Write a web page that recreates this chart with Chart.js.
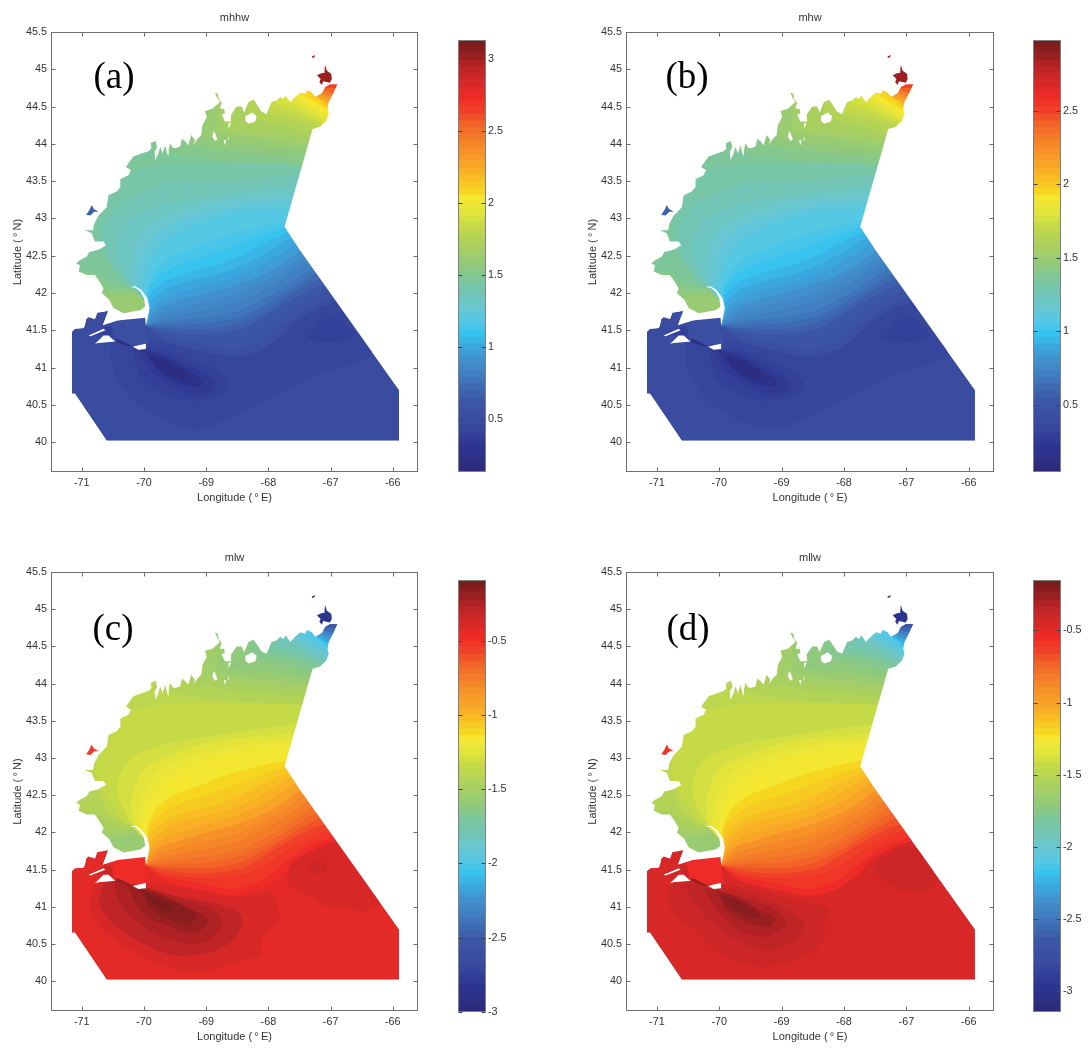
<!DOCTYPE html>
<html><head><meta charset="utf-8">
<style>
html,body{margin:0;padding:0;background:#fff;overflow:hidden;width:1089px;height:1049px}
canvas{position:absolute;display:block}
</style>
<script src="https://cdn.jsdelivr.net/npm/chart.js@4"></script>
</head><body>
<script>
// ---------- labels and ticks ----------
const panelTitles = ['mhhw','mhw','mlw','mllw'];
const panelLetters = ['(a)','(b)','(c)','(d)'];
const lonTicks = [-71,-70,-69,-68,-67,-66];
const latTicks = [40,40.5,41,41.5,42,42.5,43,43.5,44,44.5,45,45.5];
const colorLimits = [[0.135,3.13],[0.045,2.98],[-3,-0.092],[-3.146,-0.15]];
const colorTicks = [[0.5,1,1.5,2,2.5,3],[0.5,1,1.5,2,2.5],[-3,-2.5,-2,-1.5,-1,-0.5],[-3,-2.5,-2,-1.5,-1,-0.5]];

// ---------- model domain (lon, lat) ----------
const domainOutline = [[-65.90,40.70],[-65.90,40.02],[-70.60,40.02],[-71.11,40.65],[-71.16,40.65],[-71.16,41.48],[-71.11,41.52],[-70.97,41.53],[-70.95,41.57],[-70.93,41.65],[-70.89,41.68],[-70.79,41.65],[-70.75,41.74],[-70.65,41.75],[-70.57,41.77],[-70.66,41.57],[-70.43,41.63],[-69.98,41.67],[-69.97,41.56],[-69.93,41.71],[-69.91,41.80],[-69.945,41.93],[-70.04,42.04],[-70.14,42.09],[-70.22,42.08],[-70.14,42.07],[-70.06,42.02],[-70.00,41.93],[-69.98,41.82],[-70.06,41.77],[-70.33,41.73],[-70.49,41.80],[-70.56,41.91],[-70.68,42.00],[-70.65,42.06],[-70.73,42.17],[-70.79,42.24],[-70.92,42.24],[-71.05,42.29],[-71.03,42.37],[-71.09,42.40],[-71.03,42.44],[-70.92,42.49],[-70.88,42.55],[-70.73,42.58],[-70.61,42.64],[-70.65,42.69],[-70.79,42.69],[-70.84,42.80],[-70.95,42.84],[-70.82,42.84],[-70.80,42.93],[-70.73,43.04],[-70.60,43.15],[-70.57,43.31],[-70.44,43.36],[-70.38,43.42],[-70.38,43.53],[-70.25,43.58],[-70.21,43.65],[-70.29,43.69],[-70.25,43.74],[-70.17,43.83],[-70.04,43.87],[-69.93,43.90],[-69.88,43.94],[-69.89,44.01],[-69.81,44.04],[-69.79,43.95],[-69.83,43.90],[-69.82,43.78],[-69.77,43.87],[-69.74,43.96],[-69.70,43.87],[-69.66,43.98],[-69.62,43.85],[-69.58,44.01],[-69.54,43.95],[-69.50,43.94],[-69.42,43.96],[-69.39,44.07],[-69.33,44.03],[-69.29,43.98],[-69.24,44.12],[-69.18,44.05],[-69.21,43.98],[-69.13,44.08],[-69.08,44.12],[-69.06,44.25],[-68.99,44.36],[-69.02,44.44],[-68.90,44.47],[-68.86,44.50],[-68.78,44.56],[-68.83,44.63],[-68.86,44.69],[-68.81,44.67],[-68.80,44.60],[-68.75,44.55],[-68.78,44.47],[-68.71,44.47],[-68.70,44.41],[-68.75,44.39],[-68.70,44.30],[-68.59,44.30],[-68.60,44.39],[-68.51,44.50],[-68.43,44.50],[-68.39,44.42],[-68.32,44.56],[-68.24,44.59],[-68.21,44.56],[-68.11,44.43],[-68.03,44.40],[-67.95,44.56],[-67.87,44.58],[-67.81,44.63],[-67.76,44.60],[-67.72,44.65],[-67.65,44.56],[-67.57,44.63],[-67.49,44.69],[-67.41,44.67],[-67.38,44.72],[-67.30,44.69],[-67.25,44.63],[-67.14,44.68],[-67.09,44.76],[-67.01,44.80],[-66.89,44.80],[-66.95,44.69],[-67.03,44.56],[-67.05,44.47],[-67.03,44.40],[-67.07,44.31],[-67.17,44.23],[-67.29,44.20],[-67.74,42.89],[-67.49,42.57]];
const outerFrame = [[-65,40.70],[-65,47],[-73,47],[-73,39],[-65,39],[-65,40.70]];
const islandPaths = [
 [[-70.76,41.34],[-70.65,41.43],[-70.57,41.43],[-70.49,41.37],[-70.46,41.35],[-70.73,41.33],[-70.79,41.32]],
 [[-70.18,41.28],[-70.09,41.30],[-69.97,41.32],[-69.97,41.25],[-70.09,41.24]],
 [[-70.89,41.43],[-70.65,41.52],[-70.62,41.50],[-70.86,41.42]],
 [[-68.37,44.37],[-68.26,44.42],[-68.19,44.37],[-68.21,44.30],[-68.32,44.27],[-68.37,44.31]],
 [[-68.88,44.17],[-68.86,44.15],[-68.82,44.06],[-68.86,44.04],[-68.90,44.10]],
 [[-68.64,44.28],[-68.60,44.28],[-68.64,44.20]],
 [[-68.65,44.09],[-68.63,44.08],[-68.64,44.04]],
 [[-68.72,44.05],[-68.68,44.05],[-68.70,43.98]],
 [[-69.63,43.90],[-69.60,43.90],[-69.61,43.83]]
];

// ---------- contour lines: fan from Cape Cod and arcs over the Gulf ----------
const fanPaths = [
 [[-69.97,41.56],[-69.79,41.40],[-69.53,41.31],[-69.10,41.23],[-68.56,41.15],[-68.08,41.25],[-67.70,41.50],[-67.60,41.62],[-67.22,41.79],[-66.79,41.99]],
 [[-69.97,41.56],[-69.74,41.43],[-69.42,41.36],[-68.99,41.30],[-68.56,41.24],[-68.13,41.34],[-67.76,41.58],[-67.38,41.81],[-66.79,42.06]],
 [[-69.97,41.56],[-69.74,41.45],[-69.31,41.40],[-68.83,41.39],[-68.35,41.45],[-67.97,41.61],[-67.60,41.81],[-67.17,41.99],[-66.79,42.12]],
 [[-69.97,41.56],[-69.71,41.50],[-69.26,41.45],[-68.83,41.46],[-68.40,41.53],[-68.03,41.70],[-67.65,41.90],[-67.28,42.06],[-66.85,42.21]],
 [[-69.97,41.56],[-69.69,41.53],[-69.26,41.52],[-68.83,41.53],[-68.40,41.61],[-68.03,41.77],[-67.65,41.97],[-67.22,42.17],[-66.90,42.28]],
 [[-69.97,41.56],[-69.69,41.57],[-69.23,41.58],[-68.83,41.61],[-68.43,41.69],[-68.05,41.85],[-67.68,42.03],[-67.28,42.24],[-66.95,42.37]],
 [[-69.97,41.57],[-69.69,41.61],[-69.26,41.65],[-68.83,41.69],[-68.45,41.77],[-68.08,41.92],[-67.70,42.10],[-67.33,42.32],[-67.01,42.48]],
 [[-69.97,41.57],[-69.71,41.66],[-69.31,41.73],[-68.88,41.80],[-68.51,41.88],[-68.13,42.02],[-67.76,42.20],[-67.38,42.41],[-67.06,42.59]],
 [[-69.97,41.57],[-69.75,41.72],[-69.37,41.81],[-68.94,41.90],[-68.53,41.98],[-68.16,42.12],[-67.78,42.29],[-67.44,42.50],[-67.11,42.68]],
 [[-69.97,41.58],[-69.79,41.78],[-69.47,41.88],[-69.04,41.99],[-68.62,42.08],[-68.19,42.21],[-67.81,42.38],[-67.49,42.57],[-67.17,42.74]],
 [[-69.97,41.58],[-69.84,41.83],[-69.55,41.97],[-69.12,42.08],[-68.70,42.17],[-68.27,42.31],[-67.89,42.48],[-67.56,42.66],[-67.22,42.83]],
 [[-69.96,41.60],[-69.87,41.90],[-69.63,42.06],[-69.20,42.18],[-68.78,42.26],[-68.35,42.40],[-67.97,42.57],[-67.64,42.74],[-67.28,42.92]],
 [[-69.96,41.62],[-69.90,41.97],[-69.69,42.14],[-69.31,42.27],[-68.88,42.36],[-68.45,42.50],[-68.08,42.66],[-67.70,42.81],[-67.33,42.97]],
 [[-69.95,41.66],[-69.93,42.03],[-69.75,42.23],[-69.42,42.39],[-68.99,42.50],[-68.56,42.63],[-68.13,42.77],[-67.74,42.88],[-67.33,43.01]],
 [[-69.94,42.08],[-69.82,42.30],[-69.53,42.50],[-69.10,42.63],[-68.67,42.77],[-68.19,42.88],[-67.71,42.97],[-67.33,43.05]],
 [[-70.04,42.05],[-69.95,42.30],[-69.87,42.48],[-69.58,42.75],[-68.99,42.97],[-68.29,43.11],[-67.66,43.13],[-67.28,43.15]],
 [[-70.12,42.07],[-70.07,42.32],[-70.01,42.53],[-69.74,42.84],[-69.10,43.06],[-68.35,43.19],[-67.62,43.24],[-67.22,43.25]],
 [[-70.16,42.08],[-70.21,42.30],[-70.20,42.48],[-70.01,42.84],[-69.53,43.06],[-68.78,43.24],[-67.60,43.33],[-67.17,43.36]],
 [[-70.18,42.08],[-70.34,42.34],[-70.43,42.53],[-70.38,42.79],[-70.17,43.02],[-69.63,43.19],[-68.88,43.30],[-67.54,43.46],[-67.17,43.50]],
 [[-70.20,42.08],[-70.46,42.30],[-70.60,42.52],[-70.65,42.84],[-70.52,43.06],[-70.22,43.28],[-69.63,43.46],[-68.83,43.50],[-67.49,43.59],[-67.11,43.63]],
 [[-70.71,42.61],[-70.76,42.84],[-70.71,43.06],[-70.55,43.33],[-70.28,43.60],[-69.79,43.71],[-68.99,43.73],[-67.46,43.73],[-67.06,43.75]]
];
const fanClosure = [[-65,46],[-72,46],[-72,41.85],[-70.7,41.85],[-70.3,41.72],[-69.98,41.72]];
const fanLevelsA = [.53,.58,.63,.67,.72,.77,.81,.86,.91,.95,1.00,1.05,1.09,1.14,1.19,1.23,1.28,1.33,1.37,1.42,1.47];
const fanLevelsB = [.44,.48,.53,.57,.62,.66,.71,.76,.80,.85,.89,.94,.99,1.03,1.08,1.12,1.17,1.22,1.26,1.31,1.35];
const fanLevelsC = [-.48,-.52,-.57,-.61,-.66,-.71,-.75,-.80,-.84,-.93,-.98,-1.02,-1.07,-1.11,-1.16,-1.21,-1.25,-1.30,-1.34,-1.34,-1.39];
const fanLevelsD = [-.55,-.60,-.64,-.69,-.74,-.78,-.83,-.88,-.92,-1.02,-1.06,-1.11,-1.16,-1.20,-1.25,-1.30,-1.34,-1.39,-1.44,-1.44,-1.48];

// ---------- contour lines slanting towards the Bay of Fundy ----------
const coastPaths = [
 [[-69.85,43.91],[-69.31,43.84],[-68.56,43.77],[-67.44,43.71],[-67.06,43.68]],
 [[-69.31,43.99],[-68.56,43.91],[-67.41,43.82],[-67.01,43.79]],
 [[-69.05,44.08],[-68.24,43.99],[-67.37,43.91],[-66.95,43.88]],
 [[-68.83,44.15],[-68.03,44.06],[-67.34,43.99],[-66.95,43.95]],
 [[-68.62,44.19],[-67.92,44.15],[-67.32,44.07],[-66.95,44.04]],
 [[-68.32,44.35],[-67.76,44.24],[-67.29,44.15],[-66.95,44.11]],
 [[-68.08,44.40],[-67.65,44.33],[-67.25,44.23],[-66.95,44.15]],
 [[-67.97,44.46],[-67.54,44.37],[-67.22,44.27],[-66.95,44.17]],
 [[-67.87,44.53],[-67.49,44.42],[-67.17,44.30],[-66.95,44.22]],
 [[-67.73,44.58],[-67.41,44.46],[-67.13,44.33],[-66.95,44.25]],
 [[-67.62,44.62],[-67.33,44.48],[-67.09,44.36],[-66.95,44.31]],
 [[-67.54,44.64],[-67.28,44.50],[-67.06,44.40],[-66.95,44.36]],
 [[-67.46,44.66],[-67.22,44.54],[-67.03,44.44],[-66.95,44.40]],
 [[-67.36,44.69],[-67.19,44.58],[-67.01,44.48]],
 [[-67.28,44.64],[-67.14,44.58],[-66.98,44.49]],
 [[-67.22,44.63],[-67.09,44.57],[-66.95,44.53]],
 [[-67.20,44.67],[-67.03,44.60],[-66.93,44.57]],
 [[-67.16,44.69],[-67.01,44.65],[-66.90,44.62]],
 [[-67.11,44.72],[-66.98,44.69],[-66.84,44.67]],
 [[-67.09,44.75],[-66.95,44.75],[-66.82,44.73]]
];
const coastLevelsA = [1.52,1.56,1.61,1.66,1.70,1.75,1.80,1.84,1.89,1.94,1.98,2.03,2.08,2.12,2.17,2.26,2.36,2.45,2.54,2.64];
const coastLevelsB = [1.40,1.45,1.49,1.54,1.58,1.63,1.67,1.72,1.77,1.81,1.86,1.90,1.95,1.99,2.04,2.13,2.23,2.32,2.41,2.50];
const coastLevelsC = [-1.43,-1.48,-1.52,-1.57,-1.61,-1.66,-1.71,-1.75,-1.80,-1.84,-1.89,-1.93,-1.98,-2.02,-2.07,-2.16,-2.25,-2.34,-2.43,-2.52];
const coastLevelsD = [-1.53,-1.58,-1.62,-1.67,-1.72,-1.77,-1.81,-1.86,-1.91,-1.95,-2.00,-2.05,-2.09,-2.14,-2.19,-2.28,-2.37,-2.47,-2.56,-2.65];

// ---------- Cape Cod Bay and Massachusetts coast ----------
const bayPaths = [
 [[-70.20,42.08],[-70.44,42.19],[-70.61,42.30],[-70.71,42.48],[-70.76,42.64],[-71.13,42.64],[-71.24,42.12],[-70.71,41.83],[-70.54,41.74],[-69.99,41.72],[-69.99,41.90]],
 [[-70.17,42.07],[-70.41,42.10],[-70.60,42.17],[-70.81,42.28],[-71.24,42.28],[-71.24,42.12],[-70.71,41.83],[-70.54,41.74],[-69.99,41.72],[-69.99,41.90]],
 [[-70.14,42.04],[-70.38,42.02],[-70.60,42.05],[-71.24,42.05],[-70.71,41.83],[-70.54,41.74],[-69.99,41.72],[-69.99,41.90]],
 [[-70.09,41.99],[-70.33,41.95],[-70.54,41.95],[-70.71,41.83],[-70.54,41.74],[-69.99,41.72],[-69.99,41.90]]
];
const bayLevelsA = [1.47,1.52,1.56,1.61];
const bayLevelsB = [1.35,1.40,1.45,1.49];
const bayLevelsC = [-1.43,-1.48,-1.52,-1.57];
const bayLevelsD = [-1.53,-1.58,-1.62,-1.67];

// ---------- Nantucket Sound and Vineyard Sound ----------
const soundPaths = [
 [[-70.62,41.53],[-70.46,41.62],[-70.33,41.65],[-69.97,41.69],[-69.97,41.55],[-69.93,41.32],[-70.17,41.30],[-70.46,41.36],[-70.60,41.43]],
 [[-70.87,41.43],[-70.65,41.54],[-70.52,41.56],[-70.49,41.45],[-70.49,41.38],[-70.62,41.43]],
 [[-70.46,41.39],[-70.38,41.37],[-70.20,41.29],[-70.25,41.28],[-70.44,41.34]]
];
const soundLevelsA = [.53,.39,.25];
const soundLevelsB = [.44,.30,.16];
const soundLevelsC = [-.48,-.34,-.21];
const soundLevelsD = [-.55,-.41,-.27];

// ---------- inlets coloured apart from the open water ----------
const inletPaths = [
 [[-70.93,43.05],[-70.88,43.11],[-70.84,43.18],[-70.81,43.13],[-70.73,43.09],[-70.80,43.09],[-70.86,43.04]],
 [[-67.09,45.06],[-67.06,44.98],[-66.99,44.94],[-66.98,44.87],[-67.01,44.82],[-67.12,44.84],[-67.14,44.79],[-67.18,44.83],[-67.16,44.87],[-67.22,44.92],[-67.14,44.95],[-67.10,44.95]],
 [[-67.30,45.17],[-67.25,45.19],[-67.26,45.16],[-67.30,45.15]]
];
const inletLevelsA = [.67,3.01,3.01];
const inletLevelsB = [.57,2.87,2.87];
const inletLevelsC = [-.52,-2.84,-2.84];
const inletLevelsD = [-.60,-2.98,-2.98];

// ---------- open-water level and closed contours south of the fan ----------
const baseLevels = [.49,.39,-.432,-.456];
const blobPathsHigh = [
 [[-70.52,41.37],[-70.52,41.05],[-70.33,40.70],[-69.90,40.39],[-69.26,40.18],[-68.83,40.25],[-68.13,40.52],[-67.11,40.94],[-66.34,41.21],[-66.90,41.90],[-68.03,41.41],[-69.95,41.37]],
 [[-67.38,41.39],[-67.01,41.68],[-66.63,41.43],[-67.01,41.34]],
 [[-70.20,41.28],[-70.01,40.83],[-69.53,40.61],[-69.15,40.56],[-68.72,40.66],[-68.65,40.80],[-68.90,40.98],[-69.30,41.12],[-69.63,41.23]],
 [[-70.12,41.25],[-69.85,40.92],[-69.42,40.70],[-69.15,40.63],[-68.88,40.70],[-68.88,40.83],[-69.20,40.99],[-69.63,41.17]],
 [[-70.01,41.23],[-69.79,40.99],[-69.47,40.81],[-69.15,40.74],[-69.07,40.81],[-69.26,40.94],[-69.63,41.12]],
 [[-69.90,41.14],[-69.69,40.94],[-69.42,40.85],[-69.23,40.81],[-69.31,40.90],[-69.58,41.05]]
];
const blobLevelsA = [.44,.39,.39,.35,.25,.20];
const blobLevelsB = [.34,.30,.30,.25,.16,.11];
const blobPathsC = [
 [[-70.79,41.29],[-70.87,41.10],[-70.79,40.82],[-70.49,40.57],[-70.06,40.35],[-69.63,40.20],[-69.26,40.11],[-68.83,40.17],[-68.40,40.28],[-68.13,40.35],[-68.11,40.55],[-67.97,40.69],[-67.84,40.80],[-67.84,41.00],[-67.95,41.17],[-68.19,41.17],[-68.45,41.13],[-69.10,41.22],[-69.90,41.33],[-70.46,41.39]],
 [[-67.70,41.37],[-67.62,41.60],[-67.17,41.80],[-66.93,41.90],[-66.2,41.1],[-66.42,40.95],[-66.74,40.97],[-67.06,41.00],[-67.38,41.17],[-67.65,41.26]],
 [[-67.38,41.53],[-67.22,41.62],[-67.06,41.55],[-67.11,41.46],[-67.33,41.46]],
 [[-70.65,41.31],[-70.71,41.04],[-70.44,40.73],[-70.06,40.53],[-69.63,40.37],[-69.26,40.35],[-68.83,40.42],[-68.48,40.64],[-68.45,40.89],[-68.67,41.00],[-69.10,41.09],[-69.63,41.17],[-69.95,41.26],[-70.46,41.37]],
 [[-70.49,41.35],[-70.38,41.04],[-70.06,40.77],[-69.69,40.60],[-69.31,40.51],[-68.99,40.55],[-68.75,40.73],[-68.75,40.84],[-68.99,41.00],[-69.42,41.11],[-69.95,41.26]],
 [[-70.28,41.29],[-70.01,40.91],[-69.63,40.75],[-69.26,40.65],[-69.02,40.73],[-68.99,40.84],[-69.20,40.95],[-69.53,41.09],[-69.97,41.24]],
 [[-70.01,41.22],[-69.90,41.00],[-69.63,40.84],[-69.31,40.77],[-69.15,40.84],[-69.20,40.93],[-69.50,41.06],[-69.74,41.15]],
 [[-70.04,41.22],[-69.85,41.02],[-69.55,40.93],[-69.55,41.02],[-69.79,41.11]]
];
const blobLevelsC = [-.386,-.386,-.341,-.296,-.25,-.205,-.16,-.114];
const blobPathsD = [
 [[-70.82,41.22],[-70.80,41.00],[-70.42,40.69],[-69.89,40.33],[-69.35,40.20],[-68.97,40.24],[-68.55,40.37],[-68.33,40.55],[-68.30,40.80],[-68.22,40.91],[-68.28,41.00],[-68.65,41.06],[-69.24,41.20],[-70.26,41.37],[-70.55,41.46]],
 [[-67.53,41.49],[-67.42,41.64],[-66.88,41.80],[-66.51,41.37],[-66.62,41.24],[-66.88,41.20],[-67.26,41.29]],
 [[-70.58,41.31],[-70.37,41.00],[-69.89,40.64],[-69.35,40.42],[-68.97,40.46],[-68.68,40.66],[-68.65,40.80],[-68.87,40.95],[-69.24,41.09],[-69.99,41.26]],
 [[-70.26,41.26],[-69.89,40.82],[-69.35,40.60],[-69.03,40.69],[-68.92,40.80],[-69.08,40.95],[-69.40,41.06],[-69.94,41.20]],
 [[-70.05,41.22],[-69.83,40.91],[-69.24,40.73],[-69.11,40.84],[-69.35,40.95],[-69.72,41.13]],
 [[-69.99,41.17],[-69.78,40.95],[-69.35,40.86],[-69.43,40.95],[-69.64,41.06]]
];
const blobLevelsD = [-.409,-.409,-.362,-.315,-.268,-.221];

// ---------- colour map: band index -> colour ----------
const colorAnchors = [[0,'#2b2b7b'],[3,'#2d3490'],[5,'#33409a'],[7,'#3a4ca0'],[10,'#3b56a6'],[12,'#3e6ab2'],[14,'#4080c1'],[16,'#4190cd'],[18,'#3aa8de'],[20,'#38c3ef'],[22,'#55c8e4'],[24,'#6ac6cf'],[26,'#72c5b5'],[28,'#7cc69a'],[30,'#90c97c'],[33,'#a9d05e'],[36,'#c6da47'],[38,'#e2e43c'],[40,'#f3e731'],[41,'#f6d61f'],[43,'#f7bd22'],[45,'#f8a427'],[47,'#f79228'],[49,'#f47c28'],[51,'#f26327'],[53,'#ef4127'],[55,'#ee2b27'],[57,'#d72827'],[58,'#cd2627'],[60,'#b02124'],[61,'#9a1f20'],[62,'#8a1d1e'],[63,'#7c1c1c']];
const BANDS = 64;
const rgb = h => [1,3,5].map(i => parseInt(h.substr(i,2),16));
const palette = [];
for (let a = 0; a < colorAnchors.length - 1; a++) {
  const [i0,c0] = colorAnchors[a], [i1,c1] = colorAnchors[a+1];
  for (let i = i0; i <= i1; i++) {
    const t = (i-i0)/(i1-i0), p = rgb(c0), q = rgb(c1);
    palette[i] = 'rgb(' + p.map((v,k)=>Math.round(v+(q[k]-v)*t)).join(',') + ')';
  }
}
function colorOf(v, lim) {
  const i = Math.floor((v-lim[0])/(lim[1]-lim[0])*BANDS);
  return palette[Math.max(0,Math.min(BANDS-1,i))];
}

// ---------- page layout ----------
const LON_RANGE = [-71.495,-65.595], LAT_RANGE = [39.6,45.5];
const mapBoxes = [
  {left:0,top:0,h:510,bottom:38},{left:575,top:0,h:510,bottom:38},
  {left:0,top:540,h:509,bottom:38},{left:575,top:540,h:509,bottom:38}];
const barBoxes = [{left:440,top:0},{left:1015,top:0},{left:440,top:540},{left:1015,top:540}];
const letterOffsets = [[63,46],[61,46],[62,58],[62,58]];
const FONT = '"Liberation Sans", Arial, sans-serif';
const INK = '#333', FRAME = '#6e6e6e';
const SMOOTH = 0.3;

function addCanvas(left, top, w, h) {
  const c = document.createElement('canvas');
  c.width = w; c.height = h;
  c.style.left = left+'px'; c.style.top = top+'px';
  c.style.width = w+'px'; c.style.height = h+'px';
  document.body.appendChild(c);
  return c.getContext('2d');
}
function polygon(points, color, tension) {
  return {data: points.map(p => ({x:p[0],y:p[1]})), showLine:true, fill:'shape',
    backgroundColor:color, borderColor:'transparent', borderWidth:0, pointRadius:0, tension:tension||0};
}
function framePlugin(letter, off) {
  return {id:'frame', afterDraw(ch) {
    const {ctx, chartArea:a, scales:{x,y}} = ch;
    const L=Math.round(a.left)+.5, R=Math.round(a.right)-.5, T=Math.round(a.top)+.5, B=Math.round(a.bottom)-.5;
    ctx.save();
    ctx.strokeStyle = FRAME; ctx.lineWidth = 1;
    ctx.strokeRect(L,T,R-L,B-T);
    ctx.beginPath();
    lonTicks.forEach(v => { const px=Math.round(x.getPixelForValue(v))+.5;
      ctx.moveTo(px,B); ctx.lineTo(px,B-4); ctx.moveTo(px,T); ctx.lineTo(px,T+4); });
    latTicks.forEach(v => { const py=Math.round(y.getPixelForValue(v))+.5;
      ctx.moveTo(L,py); ctx.lineTo(L+4,py); ctx.moveTo(R,py); ctx.lineTo(R-4,py); });
    ctx.stroke();
    ctx.fillStyle = '#000';
    ctx.font = '37px "Liberation Serif", "Times New Roman", serif';
    ctx.textAlign = 'center'; ctx.textBaseline = 'middle';
    ctx.fillText(letter, a.left+off[0], a.top+off[1]);
    ctx.restore();
  }};
}
function barFramePlugin(ticks) {
  return {id:'barFrame', afterDraw(ch) {
    const {ctx, chartArea:a, scales:{y}} = ch;
    const L=Math.round(a.left)+.5, R=Math.round(a.right)-.5, T=Math.round(a.top)+.5, B=Math.round(a.bottom)-.5;
    ctx.save();
    ctx.strokeStyle = '#808080'; ctx.lineWidth = 1;
    ctx.strokeRect(L,T,R-L,B-T);
    ctx.strokeStyle = '#444';
    ctx.beginPath();
    ticks.forEach(v => { const py=Math.round(y.getPixelForValue(v))+.5;
      ctx.moveTo(L,py); ctx.lineTo(L+4,py); ctx.moveTo(R,py); ctx.lineTo(R-4,py); });
    ctx.stroke();
    ctx.restore();
  }};
}

const fanLevels = [fanLevelsA,fanLevelsB,fanLevelsC,fanLevelsD];
const coastLevels = [coastLevelsA,coastLevelsB,coastLevelsC,coastLevelsD];
const bayLevels = [bayLevelsA,bayLevelsB,bayLevelsC,bayLevelsD];
const soundLevels = [soundLevelsA,soundLevelsB,soundLevelsC,soundLevelsD];
const inletLevels = [inletLevelsA,inletLevelsB,inletLevelsC,inletLevelsD];
const blobPaths = [blobPathsHigh,blobPathsHigh,blobPathsC,blobPathsD];
const blobLevels = [blobLevelsA,blobLevelsB,blobLevelsC,blobLevelsD];

panelTitles.forEach((title, n) => {
  const lim = colorLimits[n];
  const layers = [];
  layers.push(polygon(domainOutline, colorOf(baseLevels[n], lim)));
  blobPaths[n].forEach((p,i) => layers.push(polygon(p.concat([p[0]]), colorOf(blobLevels[n][i], lim), 0.4)));
  fanPaths.forEach((p,i) => layers.push(polygon(p.concat(fanClosure), colorOf(fanLevels[n][i], lim), SMOOTH)));
  coastPaths.forEach((p,i) => layers.push(polygon(p.concat([[-65,46],[p[0][0],46]]), colorOf(coastLevels[n][i], lim), SMOOTH)));
  bayPaths.forEach((p,i) => layers.push(polygon(p, colorOf(bayLevels[n][i], lim), SMOOTH)));
  soundPaths.forEach((p,i) => layers.push(polygon(p, colorOf(soundLevels[n][i], lim))));
  // everything outside the model domain is land or open sea: white
  layers.push(polygon(domainOutline.concat([domainOutline[0]], outerFrame, [domainOutline[0]]), '#ffffff'));
  islandPaths.forEach(p => layers.push(polygon(p, '#ffffff')));
  inletPaths.forEach((p,i) => layers.push(polygon(p, colorOf(inletLevels[n][i], lim))));
  layers.reverse();   // Chart.js paints the first dataset last

  const box = mapBoxes[n];
  new Chart(addCanvas(box.left, box.top, 430, box.h), {
    type:'scatter',
    data:{datasets:layers},
    plugins:[framePlugin(panelLetters[n], letterOffsets[n])],
    options:{
      responsive:false, animation:false, events:[],
      layout:{padding:{right:n%2?11:12,left:0,top:0,bottom:0}},
      plugins:{legend:{display:false},tooltip:{enabled:false},
        title:{display:true,fullSize:false,text:title,color:INK,font:{family:FONT,size:11,weight:'normal',lineHeight:1.2},padding:{top:11,bottom:7.8}}},
      scales:{
        x:{type:'linear',min:LON_RANGE[0],max:LON_RANGE[1],
          afterBuildTicks:s=>{s.ticks=lonTicks.map(v=>({value:v}));},
          afterFit:s=>{s.height=box.bottom;},
          grid:{display:false,drawTicks:false},border:{display:false},
          ticks:{color:INK,font:{family:FONT,size:10.8},padding:5,maxRotation:0,autoSkip:false,callback:v=>String(v)},
          title:{display:true,text:'Longitude (\u2009\u00B0\u2009E)',color:INK,font:{family:FONT,size:11},padding:{top:0,bottom:5}}},
        y:{type:'linear',min:LAT_RANGE[0],max:LAT_RANGE[1],
          afterBuildTicks:s=>{s.ticks=latTicks.map(v=>({value:v}));},
          afterFit:s=>{s.width=51;},
          grid:{display:false,drawTicks:false},border:{display:false},
          ticks:{color:INK,font:{family:FONT,size:10.8},padding:4,autoSkip:false,callback:v=>String(v)},
          title:{display:true,text:'Latitude (\u2009\u00B0\u2009N)',color:INK,font:{family:FONT,size:11},padding:{top:11,bottom:0}}}
      }
    }
  });

  // colour bar
  const step = (lim[1]-lim[0])/BANDS;
  const bands = palette.map((c,i)=>({data:[[lim[0]+i*step, lim[0]+(i+1)*step]],backgroundColor:c,borderWidth:0,barPercentage:1,categoryPercentage:1,grouped:false}));
  const bb = barBoxes[n];
  new Chart(addCanvas(bb.left, bb.top, 74, box.h), {
    type:'bar',
    data:{labels:[''],datasets:bands},
    plugins:[barFramePlugin(colorTicks[n])],
    options:{
      responsive:false, animation:false, events:[],
      layout:{padding:{left:18,top:40,bottom:n<2?38:37,right:0}},
      plugins:{legend:{display:false},tooltip:{enabled:false}},
      scales:{
        x:{display:false},
        y:{type:'linear',position:'right',min:lim[0],max:lim[1],
          afterBuildTicks:s=>{s.ticks=colorTicks[n].map(v=>({value:v}));},
          afterFit:s=>{s.width=28;},
          grid:{display:false,drawTicks:false},border:{display:false},
          ticks:{color:INK,font:{family:FONT,size:10.8},padding:2,autoSkip:false,callback:v=>String(v)}}
      }
    }
  });
});
</script>
</body></html>
